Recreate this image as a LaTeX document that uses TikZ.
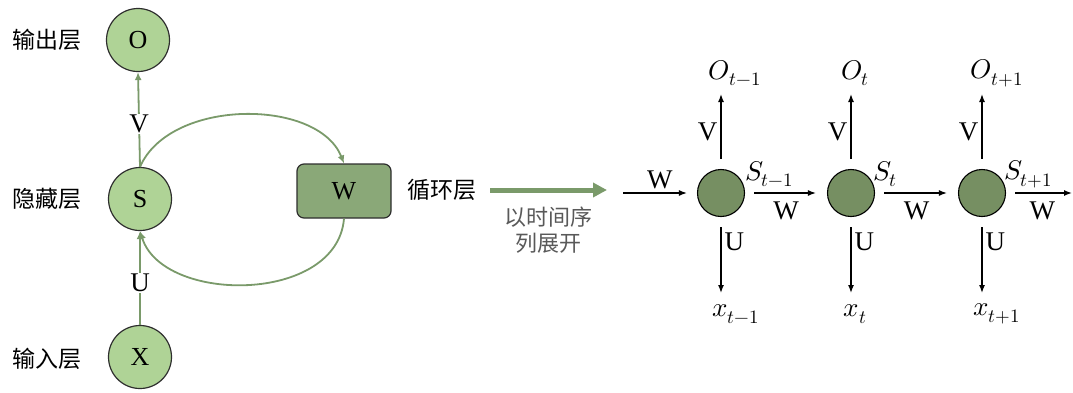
\documentclass[tikz,border=0pt]{standalone}
\usepackage{unicode-math}
\setmainfont{Liberation Serif}
\newfontfamily\cjk{Noto Sans CJK SC}
\usetikzlibrary{arrows.meta}
\definecolor{lightgreen}{HTML}{AFD396}
\definecolor{boxgreen}{HTML}{8AA878}
\definecolor{cellgreen}{HTML}{768F62}
\definecolor{linkgreen}{HTML}{7A9A6A}
\definecolor{edgegray}{HTML}{2E2E2E}
\definecolor{notegray}{HTML}{595959}
\tikzset{
  layer/.style={circle, draw=edgegray, line width=1.2pt, fill=lightgreen,
    minimum size=63pt, inner sep=0pt, font=\fontsize{26}{28}\selectfont},
  loopbox/.style={draw=edgegray, line width=1.2pt, fill=boxgreen, rounded corners=7pt,
    minimum width=94pt, minimum height=54pt, inner sep=0pt, font=\fontsize{26}{28}\selectfont},
  cell/.style={circle, draw=black, line width=1.1pt, fill=cellgreen,
    minimum size=47pt, inner sep=0pt},
  caption/.style={font=\cjk\fontsize{23}{26}\selectfont, text=black},
  greenlink/.style={draw=linkgreen, line width=1.8pt, -{Latex[length=8pt,width=7pt]}},
  blacklink/.style={draw=black, line width=1.4pt, -{Latex[length=8pt,width=6pt]}},
  weight/.style={font=\fontsize{27}{30}\selectfont, inner sep=1pt},
  seqlabel/.style={font=\fontsize{27}{30}\selectfont, inner sep=0pt},
}
\begin{document}
\begin{tikzpicture}[x=1pt, y=-1pt]
\useasboundingbox (0,0) rectangle (1073,392);

% ---- folded network ----
\node[layer] (O) at (138,40) {O};
\node[layer] (S) at (140,199) {S};
\node[layer] (X) at (140,357) {X};
\node[loopbox] (W) at (344,191) {W};

\node[caption, anchor=west] (lo) at (9,40) {输出层};
\node[caption, anchor=west] (lh) at (9,199) {隐藏层};
\node[caption, anchor=west] (li) at (9,359) {输入层};
\node[caption, anchor=west] (lr) at (404,190) {循环层};

\draw[greenlink] (S.north) -- node[weight, fill=white, pos=0.45] {V} (O.south);
\draw[greenlink] (X.north) -- node[weight, fill=white, pos=0.45] {U} (S.south);
\draw[greenlink] (S.north) .. controls (170,98) and (318,98) .. (W.north);
\draw[greenlink] (W.south) .. controls (337,304) and (163,304) .. (S.south);

% ---- unfolding arrow ----
\coordinate (ua) at (490,190);
\coordinate (ub) at (607,190);
\draw[draw=linkgreen, line width=5pt, -{Triangle[length=14pt,width=14pt]}] (ua) -- (ub);
\node[font=\cjk\fontsize{22}{26}\selectfont, text=notegray, align=center] (un) at (548,230) {以时间序\\列展开};

% ---- unrolled sequence ----
\foreach \n/\cx in {a/721, b/851, c/982} {
  \node[cell] (c\n) at (\cx,193) {};
  \coordinate (up\n) at (\cx,94);
  \coordinate (dn\n) at (\cx,293);
  \draw[blacklink, shorten <=10pt] (c\n) -- node[weight, left=2pt, pos=0.5] {V} (up\n);
  \draw[blacklink, shorten <=10pt] (c\n) -- node[weight, right=2pt, pos=0.33] {U} (dn\n);
}
\coordinate (win) at (623,193);
\coordinate (wout) at (1072,193);
\draw[blacklink, shorten >=10pt] (win) -- node[weight, above=2pt] {W} (ca);
\draw[blacklink, shorten <=9pt, shorten >=11pt] (ca) -- node[weight, below=7pt] {W} (cb);
\draw[blacklink, shorten <=9pt, shorten >=11pt] (cb) -- node[weight, below=7pt] {W} (cc);
\draw[blacklink, shorten <=9pt] (cc) -- node[weight, below=7pt, pos=0.55] {W} (wout);

\node[seqlabel] (oa) at (735,73) {$O_{t-1}$};
\node[seqlabel] (ob) at (855,73) {$O_{t}$};
\node[seqlabel] (oc) at (997,73) {$O_{t+1}$};
\node[seqlabel] (xa) at (736,314) {$x_{t-1}$};
\node[seqlabel] (xb) at (855,314) {$x_{t}$};
\node[seqlabel] (xc) at (997,314) {$x_{t+1}$};
\node[seqlabel, anchor=west] (sa) at (745,174) {$S_{t-1}$};
\node[seqlabel, anchor=west] (sb) at (873,174) {$S_{t}$};
\node[seqlabel, anchor=west] (sc) at (1004,174) {$S_{t+1}$};
\end{tikzpicture}
\end{document}
